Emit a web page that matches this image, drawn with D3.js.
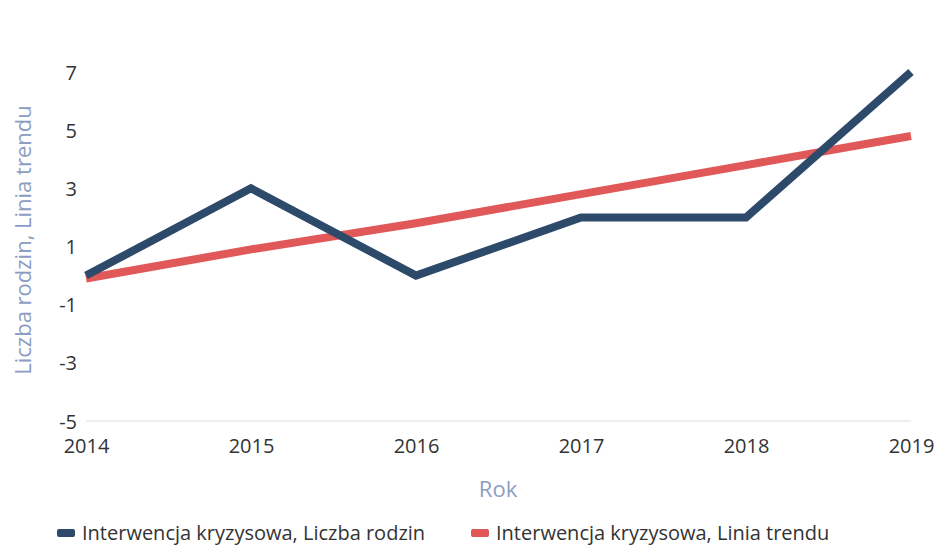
<!DOCTYPE html>
<html><head><meta charset="utf-8">
<script src="https://cdn.jsdelivr.net/npm/d3@7"></script>
<style>body{margin:0;background:#fff;}svg{display:block;}</style>
</head><body>
<svg id="c" width="937" height="549"></svg>
<script>
const years = ["2014","2015","2016","2017","2018","2019"];
const families = [0, 3, 0, 2, 2, 7];
const trend = [-0.1, 0.9, 1.8, 2.8, 3.8, 4.8];
const yTicks = [7, 5, 3, 1, -1, -3, -5];
const seriesNames = ["Interwencja kryzysowa, Liczba rodzin", "Interwencja kryzysowa, Linia trendu"];
const colors = ["#2e4a6b", "#e15858"];

const svg = d3.select("#c");
const font = "'Open Sans', sans-serif";
const x = d3.scalePoint().domain(years).range([86, 911]);
const y = d3.scaleLinear().domain([-5, 7]).range([421, 72]);

// baseline gridline
svg.append("line").attr("x1", 86).attr("x2", 911).attr("y1", y(-5)).attr("y2", y(-5))
  .attr("stroke", "#eeeeee").attr("stroke-width", 2);

// y axis labels
const ya = svg.append("g").attr("transform", "translate(77,0)")
  .call(d3.axisLeft(y).tickValues(yTicks).tickSize(0).tickPadding(0).tickFormat(d => String(d)));
ya.select(".domain").remove();
ya.selectAll("text").attr("font-family", font).attr("font-size", 20).attr("fill", "#333").attr("dy", "0.35em").attr("text-anchor", "end").attr("x", 0);

// x axis labels
const xa = svg.append("g").attr("transform", "translate(0,439)")
  .call(d3.axisBottom(x).tickSize(0).tickPadding(0));
xa.select(".domain").remove();
xa.selectAll("text").attr("font-family", font).attr("font-size", 20).attr("fill", "#333").attr("dy", "0.71em").attr("y", 0);

// axis titles
svg.append("text").attr("x", 498).attr("y", 497).attr("text-anchor", "middle")
  .attr("font-family", font).attr("font-size", 22).attr("fill", "#8b9dc3").text("Rok");
svg.append("text").attr("transform", "translate(31,240) rotate(-90)").attr("text-anchor", "middle")
  .attr("font-family", font).attr("font-size", 22).attr("fill", "#8b9dc3").text("Liczba rodzin, Linia trendu");

const line = d3.line().x((d, i) => x(years[i])).y(d => y(d));
svg.append("path").datum(trend).attr("d", line).attr("fill", "none")
  .attr("stroke", colors[1]).attr("stroke-width", 8);
svg.append("path").datum(families).attr("d", line).attr("fill", "none")
  .attr("stroke", colors[0]).attr("stroke-width", 8).attr("stroke-linejoin", "miter");

// legend
const legX = [57, 471];
seriesNames.forEach((n, i) => {
  svg.append("rect").attr("x", legX[i]).attr("y", 529).attr("width", 18).attr("height", 8).attr("rx", 2)
    .attr("fill", colors[i]);
  svg.append("text").attr("x", legX[i] + 25).attr("y", 540).attr("font-family", font)
    .attr("font-size", 20).attr("fill", "#333").text(n);
});
</script>
</body></html>
